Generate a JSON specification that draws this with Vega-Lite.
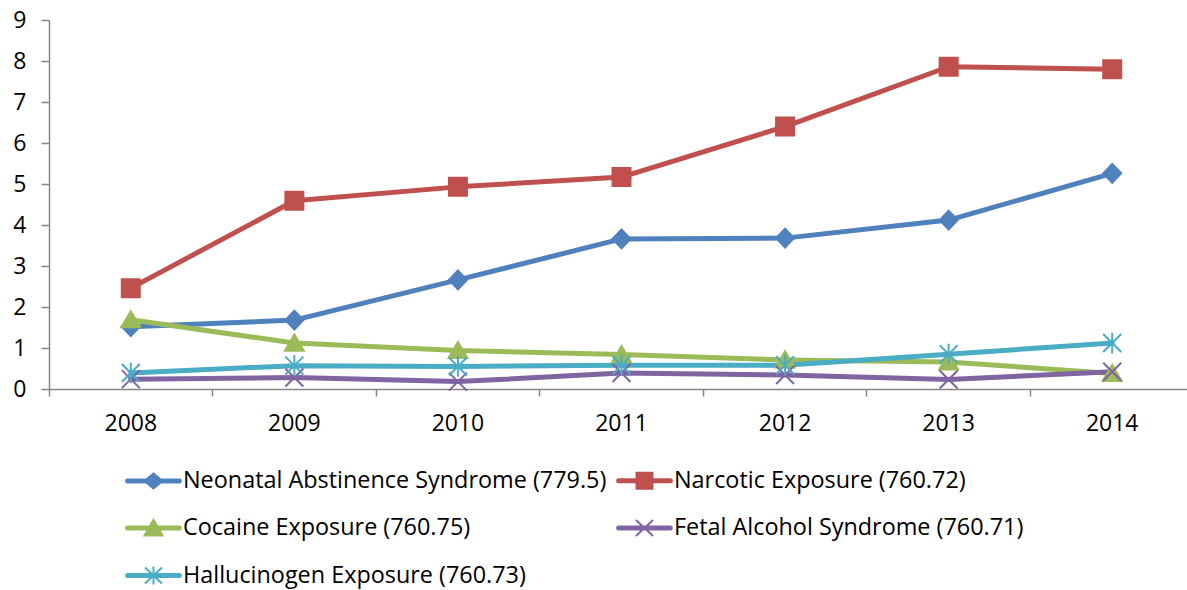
{
  "$schema": "https://vega.github.io/schema/vega-lite/v6.json",
  "width": 1138,
  "height": 369,
  "autosize": {"type": "none"},
  "padding": {"left": 49, "top": 20, "right": 0, "bottom": 201},
  "background": "white",
  "config": {
    "view": {"stroke": null},
    "font": "Open Sans",
    "axis": {"labelFont": "Open Sans", "labelFontSize": 23, "labelColor": "#000000", "domainColor": "#868686", "domainWidth": 1.5, "tickColor": "#868686", "tickWidth": 1.5, "grid": false, "title": null}
  },
  "data": {
    "values": [
      {"year": "2008", "series": "Neonatal Abstinence Syndrome (779.5)", "value": 1.52},
      {"year": "2009", "series": "Neonatal Abstinence Syndrome (779.5)", "value": 1.68},
      {"year": "2010", "series": "Neonatal Abstinence Syndrome (779.5)", "value": 2.66},
      {"year": "2011", "series": "Neonatal Abstinence Syndrome (779.5)", "value": 3.66},
      {"year": "2012", "series": "Neonatal Abstinence Syndrome (779.5)", "value": 3.68},
      {"year": "2013", "series": "Neonatal Abstinence Syndrome (779.5)", "value": 4.12},
      {"year": "2014", "series": "Neonatal Abstinence Syndrome (779.5)", "value": 5.26},
      {"year": "2008", "series": "Narcotic Exposure (760.72)", "value": 2.46},
      {"year": "2009", "series": "Narcotic Exposure (760.72)", "value": 4.59},
      {"year": "2010", "series": "Narcotic Exposure (760.72)", "value": 4.93},
      {"year": "2011", "series": "Narcotic Exposure (760.72)", "value": 5.17},
      {"year": "2012", "series": "Narcotic Exposure (760.72)", "value": 6.40},
      {"year": "2013", "series": "Narcotic Exposure (760.72)", "value": 7.86},
      {"year": "2014", "series": "Narcotic Exposure (760.72)", "value": 7.80},
      {"year": "2008", "series": "Cocaine Exposure (760.75)", "value": 1.69},
      {"year": "2009", "series": "Cocaine Exposure (760.75)", "value": 1.12},
      {"year": "2010", "series": "Cocaine Exposure (760.75)", "value": 0.94},
      {"year": "2011", "series": "Cocaine Exposure (760.75)", "value": 0.84},
      {"year": "2012", "series": "Cocaine Exposure (760.75)", "value": 0.71},
      {"year": "2013", "series": "Cocaine Exposure (760.75)", "value": 0.66},
      {"year": "2014", "series": "Cocaine Exposure (760.75)", "value": 0.38},
      {"year": "2008", "series": "Fetal Alcohol Syndrome (760.71)", "value": 0.24},
      {"year": "2009", "series": "Fetal Alcohol Syndrome (760.71)", "value": 0.28},
      {"year": "2010", "series": "Fetal Alcohol Syndrome (760.71)", "value": 0.18},
      {"year": "2011", "series": "Fetal Alcohol Syndrome (760.71)", "value": 0.39},
      {"year": "2012", "series": "Fetal Alcohol Syndrome (760.71)", "value": 0.34},
      {"year": "2013", "series": "Fetal Alcohol Syndrome (760.71)", "value": 0.23},
      {"year": "2014", "series": "Fetal Alcohol Syndrome (760.71)", "value": 0.42},
      {"year": "2008", "series": "Hallucinogen Exposure (760.73)", "value": 0.39},
      {"year": "2009", "series": "Hallucinogen Exposure (760.73)", "value": 0.57},
      {"year": "2010", "series": "Hallucinogen Exposure (760.73)", "value": 0.55},
      {"year": "2011", "series": "Hallucinogen Exposure (760.73)", "value": 0.58},
      {"year": "2012", "series": "Hallucinogen Exposure (760.73)", "value": 0.58},
      {"year": "2013", "series": "Hallucinogen Exposure (760.73)", "value": 0.85},
      {"year": "2014", "series": "Hallucinogen Exposure (760.73)", "value": 1.12}
    ]
  },
  "encoding": {
    "x": {
      "field": "year", "type": "ordinal",
      "scale": {"type": "band", "paddingInner": 0, "paddingOuter": 0, "range": [0, 1145]},
      "axis": {"bandPosition": 0, "labelOffset": 0, "labelAngle": 0, "tickSize": 7, "labelPadding": 16}
    },
    "y": {
      "field": "value", "type": "quantitative",
      "scale": {"domain": [0, 9], "nice": false, "zero": true},
      "axis": {"values": [0, 1, 2, 3, 4, 5, 6, 7, 8, 9], "tickSize": 8, "labelPadding": 15}
    },
    "color": {
      "field": "series", "type": "nominal",
      "scale": {
        "domain": ["Neonatal Abstinence Syndrome (779.5)", "Narcotic Exposure (760.72)", "Cocaine Exposure (760.75)", "Fetal Alcohol Syndrome (760.71)", "Hallucinogen Exposure (760.73)"],
        "range": ["#4F81BD", "#C0504D", "#9BBB59", "#8064A2", "#4BACC6"]
      },
      "legend": {
        "orient": "none", "legendX": 76, "legendY": 432, "columns": 2, "direction": "horizontal",
        "title": null, "padding": 0, "labelFont": "Open Sans", "labelFontSize": 23.4, "labelColor": "#000000",
        "labelLimit": 0, "labelOffset": 1, "symbolSize": 3025, "symbolStrokeWidth": 2, "symbolOpacity": 1, "rowPadding": 6.5, "columnPadding": 6
      }
    }
  },
  "layer": [
    {
      "mark": {"type": "line", "strokeWidth": 5, "strokeJoin": "round", "strokeCap": "round"},
      "encoding": {"detail": {"field": "series"}}
    },
    {
      "transform": [{"filter": "false"}],
      "mark": {"type": "point", "filled": true, "strokeWidth": 2, "opacity": 1},
      "encoding": {
        "shape": {
          "field": "series", "type": "nominal", "legend": null,
          "scale": {
            "domain": ["Neonatal Abstinence Syndrome (779.5)", "Narcotic Exposure (760.72)", "Cocaine Exposure (760.75)", "Fetal Alcohol Syndrome (760.71)", "Hallucinogen Exposure (760.73)"],
            "range": [
              "M-0.94,-0.055H0.94A0.055,0.055 0 0 1 0.94,0.055H-0.94A0.055,0.055 0 0 1 -0.94,-0.055Z M-0.33,0L0,-0.27L0.33,0L0,0.27Z",
              "M-0.94,-0.055H0.94A0.055,0.055 0 0 1 0.94,0.055H-0.94A0.055,0.055 0 0 1 -0.94,-0.055Z M-0.29,-0.29H0.29V0.29H-0.29Z",
              "M-0.94,-0.055H0.94A0.055,0.055 0 0 1 0.94,0.055H-0.94A0.055,0.055 0 0 1 -0.94,-0.055Z M0,-0.3L0.33,0.27H-0.33Z",
              "M-0.94,-0.055H0.94A0.055,0.055 0 0 1 0.94,0.055H-0.94A0.055,0.055 0 0 1 -0.94,-0.055Z M-0.31,-0.29L0.31,0.29M-0.31,0.29L0.31,-0.29",
              "M-0.94,-0.055H0.94A0.055,0.055 0 0 1 0.94,0.055H-0.94A0.055,0.055 0 0 1 -0.94,-0.055Z M-0.31,-0.29L0.31,0.29M-0.31,0.29L0.31,-0.29M0,-0.33V0.33"
            ]
          }
        }
      }
    },
    {
      "transform": [{"filter": "datum.series === 'Neonatal Abstinence Syndrome (779.5)'"}],
      "mark": {"type": "point", "filled": true, "size": 324, "strokeWidth": 2, "opacity": 1, "shape": "M-1,0L0,-1.05L1,0L0,1.05Z", "fill": "#4F81BD", "stroke": "#4F81BD"}
    },
    {
      "transform": [{"filter": "datum.series === 'Narcotic Exposure (760.72)'"}],
      "mark": {"type": "point", "filled": true, "size": 324, "strokeWidth": 2, "opacity": 1, "shape": "M-1,-1H1V1H-1Z", "fill": "#C0504D", "stroke": "#C0504D"}
    },
    {
      "transform": [{"filter": "datum.series === 'Cocaine Exposure (760.75)'"}],
      "mark": {"type": "point", "filled": true, "size": 324, "strokeWidth": 2, "opacity": 1, "shape": "M0,-0.95L1.05,0.85H-1.05Z", "fill": "#9BBB59", "stroke": "#9BBB59"}
    },
    {
      "transform": [{"filter": "datum.series === 'Fetal Alcohol Syndrome (760.71)'"}],
      "mark": {"type": "point", "filled": true, "size": 324, "strokeWidth": 2, "opacity": 1, "shape": "M-1,-1L1,1M-1,1L1,-1", "fill": "#8064A2", "stroke": "#8064A2"}
    },
    {
      "transform": [{"filter": "datum.series === 'Hallucinogen Exposure (760.73)'"}],
      "mark": {"type": "point", "filled": true, "size": 324, "strokeWidth": 2, "opacity": 1, "shape": "M-1,-1L1,1M-1,1L1,-1M0,-1.15V1.15", "fill": "#4BACC6", "stroke": "#4BACC6"}
    }
  ]
}
